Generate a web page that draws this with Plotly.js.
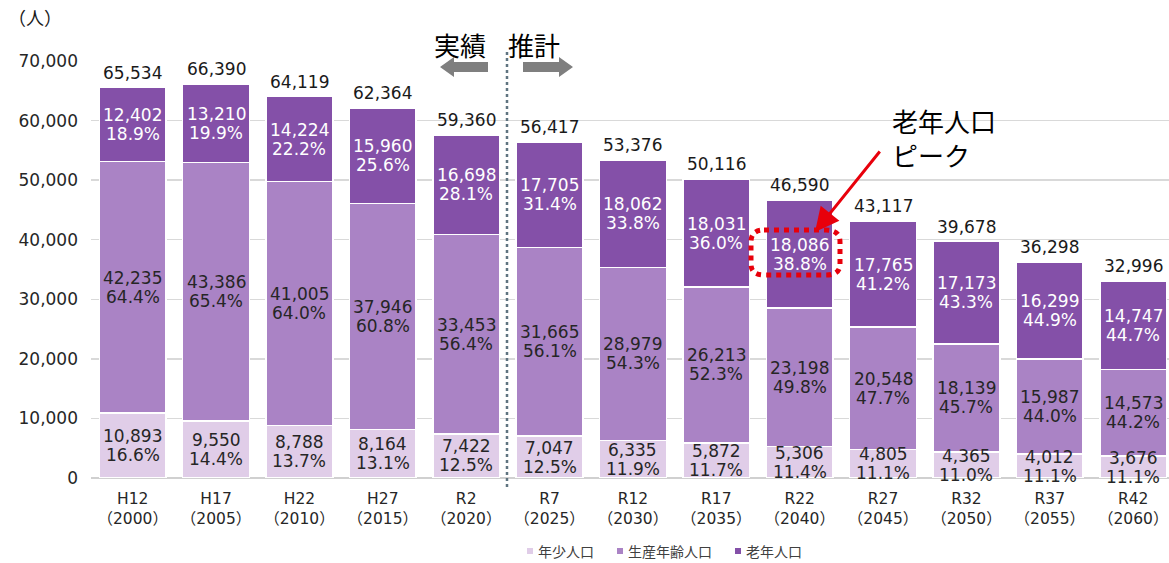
<!DOCTYPE html>
<html>
<head>
<meta charset="utf-8">
<script src="https://cdn.plot.ly/plotly-3.0.1.min.js"></script>
<style>html,body{margin:0;padding:0;background:#fff;}#chart{width:1169px;height:563px;}</style>
</head>
<body>
<div id="chart"></div>
<script>
const categories = ["H12<br>（2000）","H17<br>（2005）","H22<br>（2010）","H27<br>（2015）","R2<br>（2020）","R7<br>（2025）","R12<br>（2030）","R17<br>（2035）","R22<br>（2040）","R27<br>（2045）","R32<br>（2050）","R37<br>（2055）","R42<br>（2060）"];
const young = [10893, 9550, 8788, 8164, 7422, 7047, 6335, 5872, 5306, 4805, 4365, 4012, 3676];
const working = [42235, 43386, 41005, 37946, 33453, 31665, 28979, 26213, 23198, 20548, 18139, 15987, 14573];
const elderly = [12402, 13210, 14224, 15960, 16698, 17705, 18062, 18031, 18086, 17765, 17173, 16299, 14747];
const totals = [65534, 66390, 64119, 62364, 59360, 56417, 53376, 50116, 46590, 43117, 39678, 36298, 32996];
const youngPct = [16.6, 14.4, 13.7, 13.1, 12.5, 12.5, 11.9, 11.7, 11.4, 11.1, 11.0, 11.1, 11.1];
const workingPct = [64.4, 65.4, 64.0, 60.8, 56.4, 56.1, 54.3, 52.3, 49.8, 47.7, 45.7, 44.0, 44.2];
const elderlyPct = [18.9, 19.9, 22.2, 25.6, 28.1, 31.4, 33.8, 36.0, 38.8, 41.2, 43.3, 44.9, 44.7];
const seriesNames = ["年少人口", "生産年齢人口", "老年人口"];
const yTickVals = [0, 10000, 20000, 30000, 40000, 50000, 60000, 70000];

const FONT = '"DejaVu Sans", "Noto Sans CJK JP", sans-serif';
const JFONT = '"Noto Sans CJK JP", sans-serif';
const colors = ["#e0cde8", "#aa83c5", "#8450a8"];
const fmt = v => v.toLocaleString('en-US');

const mk = (y, i) => ({
  type: 'bar', x: categories, y: y, name: seriesNames[i],
  marker: {color: colors[i], line: {color: '#ffffff', width: 1.5}},
  hoverinfo: 'skip', showlegend: false
});
const data = [mk(young, 0), mk(working, 1), mk(elderly, 2)];

const LBL = 17;
const annotations = [];
function segLabel(c, yc, v, p, col) {
  annotations.push({x: c, y: yc, text: fmt(v), showarrow: false, yanchor: 'middle', yshift: 9.5, font: {family: FONT, size: LBL, color: col}});
  annotations.push({x: c, y: yc, text: p.toFixed(1) + '%', showarrow: false, yanchor: 'middle', yshift: -9.5, font: {family: FONT, size: LBL, color: col}});
}
categories.forEach((c, k) => {
  segLabel(c, young[k] / 2, young[k], youngPct[k], '#262626');
  segLabel(c, young[k] + working[k] / 2, working[k], workingPct[k], '#262626');
  segLabel(c, young[k] + working[k] + elderly[k] / 2, elderly[k], elderlyPct[k], '#ffffff');
  annotations.push({x: c, y: young[k] + working[k] + elderly[k], text: fmt(totals[k]), showarrow: false, yanchor: 'bottom', yshift: 3, font: {family: FONT, size: LBL, color: '#1a1a1a'}});
});

// pixel -> paper helpers (plot area: x 91..1169, y 61..478)
const L = 91, R = 1169, T = 61, B = 478;
const px = X => (X - L) / (R - L);
const py = Y => (B - Y) / (B - T);

annotations.push({xref: 'paper', yref: 'paper', x: px(6), y: py(17), xanchor: 'left', yanchor: 'middle', text: '（人）', showarrow: false, font: {family: JFONT, size: 18, color: '#1a1a1a'}});
annotations.push({xref: 'paper', yref: 'paper', x: px(460), y: py(44), xanchor: 'center', yanchor: 'middle', text: '実績', showarrow: false, font: {family: JFONT, size: 26, color: '#000'}});
annotations.push({xref: 'paper', yref: 'paper', x: px(534), y: py(44), xanchor: 'center', yanchor: 'middle', text: '推計', showarrow: false, font: {family: JFONT, size: 26, color: '#000'}});
annotations.push({xref: 'paper', yref: 'paper', x: px(890), y: py(137), xanchor: 'left', yanchor: 'middle', align: 'left', text: '老年人口<br>ピーク', showarrow: false, font: {family: JFONT, size: 26, color: '#000'}});
annotations.push({xref: 'paper', yref: 'paper', x: px(815), y: py(232), text: '', showarrow: true, arrowhead: 2, arrowsize: 1.6, arrowwidth: 3, arrowcolor: '#e8000b', ax: 66, ay: -82, standoff: 0});

// legend (custom, matching the small square markers)
const legendItems = [{x: 530, name: seriesNames[0], c: colors[0]}, {x: 620, name: seriesNames[1], c: colors[1]}, {x: 738, name: seriesNames[2], c: colors[2]}];
const shapes = [];
legendItems.forEach(it => {
  shapes.push({type: 'rect', xref: 'paper', yref: 'paper', x0: px(it.x - 3), x1: px(it.x + 3), y0: py(548), y1: py(554), fillcolor: it.c, line: {width: 0}});
  annotations.push({xref: 'paper', yref: 'paper', x: px(it.x + 6), y: py(551), xanchor: 'left', yanchor: 'middle', text: it.name, showarrow: false, font: {family: JFONT, size: 14, color: '#404040'}});
});

shapes.push(
  // dotted divider
  {type: 'line', xref: 'paper', yref: 'paper', x0: px(507), x1: px(507), y0: py(52), y1: py(490), line: {color: '#5f7480', width: 2.5, dash: 'dot'}},
  // left arrow
  {type: 'path', xref: 'paper', yref: 'paper', fillcolor: '#7f7f7f', line: {width: 0},
   path: `M ${px(440)} ${py(67)} L ${px(454)} ${py(57)} L ${px(454)} ${py(62)} L ${px(488)} ${py(62)} L ${px(488)} ${py(72)} L ${px(454)} ${py(72)} L ${px(454)} ${py(77)} Z`},
  // right arrow
  {type: 'path', xref: 'paper', yref: 'paper', fillcolor: '#7f7f7f', line: {width: 0},
   path: `M ${px(573)} ${py(67)} L ${px(559)} ${py(57)} L ${px(559)} ${py(62)} L ${px(523)} ${py(62)} L ${px(523)} ${py(72)} L ${px(559)} ${py(72)} L ${px(559)} ${py(77)} Z`},
  // red dotted rounded rectangle
  {type: 'path', xref: 'paper', yref: 'paper', line: {color: '#e8000b', width: 5, dash: 'dot'},
   path: `M ${px(764)} ${py(230)} L ${px(826)} ${py(230)} Q ${px(840)} ${py(230)} ${px(840)} ${py(242)} L ${px(840)} ${py(264)} Q ${px(840)} ${py(275)} ${px(826)} ${py(275)} L ${px(764)} ${py(275)} Q ${px(751)} ${py(275)} ${px(751)} ${py(264)} L ${px(751)} ${py(242)} Q ${px(751)} ${py(230)} ${px(764)} ${py(230)} Z`}
);

const layout = {
  width: 1169, height: 563,
  margin: {l: L, r: 0, t: T, b: 563 - B},
  paper_bgcolor: '#ffffff', plot_bgcolor: '#ffffff',
  barmode: 'stack', bargap: 0.2,
  font: {family: FONT, size: 16, color: '#262626'},
  xaxis: {type: 'category', range: [-0.5, 12.43], showgrid: false, zeroline: false, showline: false, ticks: '', ticklabelstandoff: 9, tickfont: {family: FONT, size: 15.5, color: '#262626'}, fixedrange: true},
  yaxis: {range: [0, 70000], tickvals: yTickVals, ticktext: yTickVals.map(fmt), showgrid: true, gridcolor: '#d9d9d9', gridwidth: 1.5, zeroline: true, zerolinecolor: '#d0d0d0', zerolinewidth: 2, ticks: '', ticklabelstandoff: 12, tickfont: {family: FONT, size: 17, color: '#262626'}, fixedrange: true},
  showlegend: false,
  annotations: annotations,
  shapes: shapes
};

Plotly.newPlot('chart', data, layout, {displayModeBar: false, staticPlot: true});
</script>
</body>
</html>
